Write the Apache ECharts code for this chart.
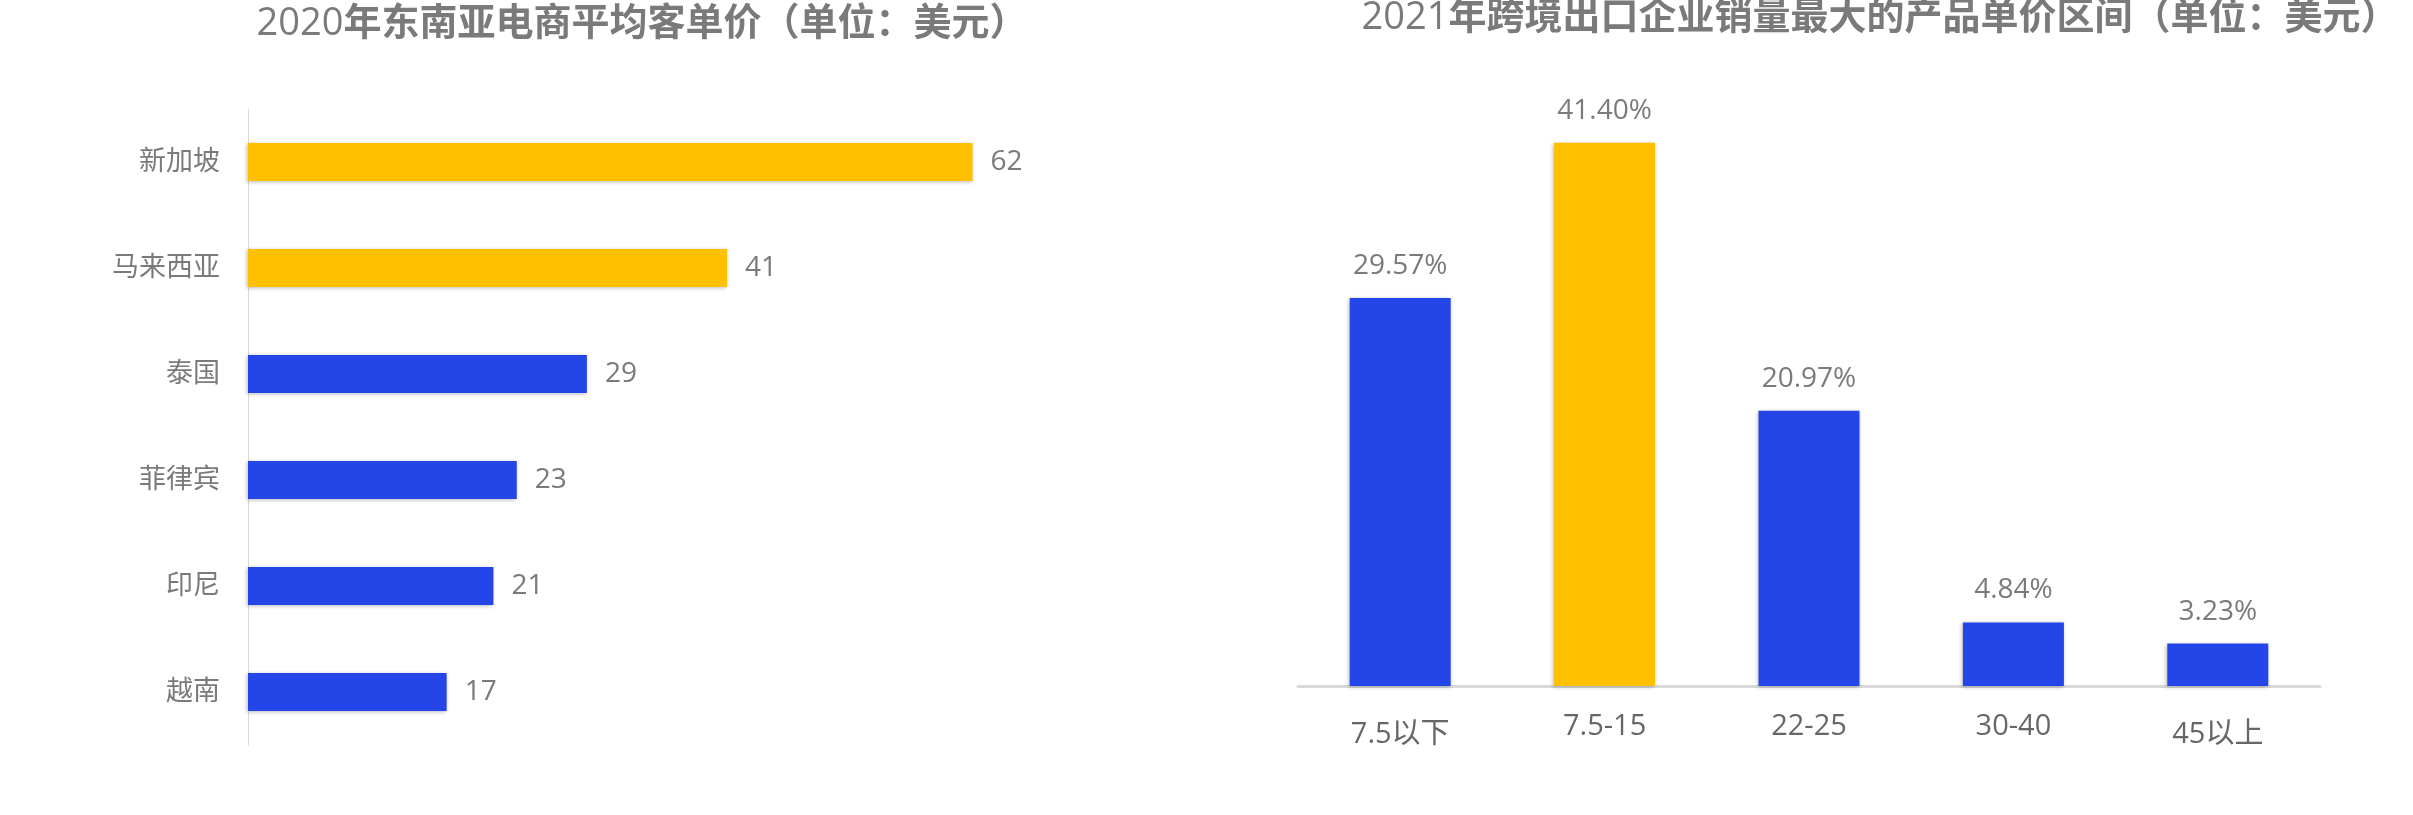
<!DOCTYPE html>
<html>
<head>
<meta charset="utf-8">
<script src="https://cdn.jsdelivr.net/npm/echarts@6/dist/echarts.min.js"></script>
<style>
html,body{margin:0;padding:0;background:#fff;}
#chart{width:2413px;height:815px;}
</style>
</head>
<body>
<div id="chart"></div>
<script>
// ---- data ----
const leftTitleYear = '2020';
const leftTitleText = '年东南亚电商平均客单价（单位：美元）';
const rightTitleYear = '2021';
const rightTitleText = '年跨境出口企业销量最大的产品单价区间（单位：美元）';

const countries = ['新加坡', '马来西亚', '泰国', '菲律宾', '印尼', '越南'];
const avgOrderValue = [62, 41, 29, 23, 21, 17];
const countryHighlight = [true, true, false, false, false, false];

const priceRanges = ['7.5以下', '7.5-15', '22-25', '30-40', '45以上'];
const rangeShare = [29.57, 41.40, 20.97, 4.84, 3.23];
const rangeHighlight = [false, true, false, false, false];

// ---- style ----
const BLUE = '#2446E8';
const YELLOW = '#FFC000';
const GRAY = '#7a7a7a';
const FONT = "'Open Sans','Noto Sans CJK SC',sans-serif";
const barShadow = {shadowColor: 'rgba(0,0,0,0.28)', shadowBlur: 4, shadowOffsetX: -1, shadowOffsetY: 1};

const chart = echarts.init(document.getElementById('chart'), null, {renderer: 'canvas'});

const titleRich = {
  n: {fontFamily: FONT, fontSize: 38, fontWeight: 'normal', color: GRAY},
  b: {fontFamily: FONT, fontSize: 38, fontWeight: 'bold', color: GRAY}
};

chart.setOption({
  backgroundColor: '#fff',
  animation: false,
  title: [
    {
      text: '{n|' + leftTitleYear + '}{b|' + leftTitleText + '}',
      left: 642, top: 5, padding: 0, textAlign: 'center',
      textStyle: {rich: titleRich}
    },
    {
      text: '{n|' + rightTitleYear + '}{b|' + rightTitleText + '}',
      left: 1880, top: -1, padding: 0, textAlign: 'center',
      textStyle: {rich: titleRich}
    }
  ],
  grid: [
    {left: 248, top: 109, width: 818, height: 636},
    {left: 1298, top: 30, width: 1022, bottom: 129}
  ],
  xAxis: [
    {
      gridIndex: 0, type: 'value', min: 0, max: 70, show: false
    },
    {
      gridIndex: 1, type: 'category',
      data: priceRanges.map(c => (/[^\x00-\x7f]/.test(c) ? {value: c, textStyle: {padding: [8, 0, 0, 0]}} : c)),
      axisLine: {lineStyle: {color: '#d9d9d9', width: 3}},
      axisTick: {show: false},
      axisLabel: {color: '#666', fontSize: 29, fontFamily: FONT, margin: 26}
    }
  ],
  yAxis: [
    {
      gridIndex: 0, type: 'category', inverse: true, data: countries,
      axisLine: {lineStyle: {color: '#d9d9d9', width: 1}},
      axisTick: {show: false},
      axisLabel: {color: GRAY, fontSize: 27, fontFamily: FONT, margin: 28}
    },
    {
      gridIndex: 1, type: 'value', min: 0, max: 50, show: false
    }
  ],
  series: [
    {
      type: 'bar', xAxisIndex: 0, yAxisIndex: 0, barWidth: 38,
      data: avgOrderValue.map((v, i) => ({
        value: v,
        itemStyle: Object.assign({color: countryHighlight[i] ? YELLOW : BLUE}, barShadow)
      })),
      label: {show: true, position: 'right', distance: 18, color: GRAY, fontSize: 28, fontFamily: FONT}
    },
    {
      type: 'bar', xAxisIndex: 1, yAxisIndex: 1, barWidth: 101,
      data: rangeShare.map((v, i) => ({
        value: v,
        itemStyle: Object.assign({color: rangeHighlight[i] ? YELLOW : BLUE}, barShadow)
      })),
      label: {
        show: true, position: 'top', distance: 18, color: GRAY, fontSize: 28, fontFamily: FONT,
        formatter: p => p.value.toFixed(2) + '%'
      }
    }
  ]
});
</script>
</body>
</html>
